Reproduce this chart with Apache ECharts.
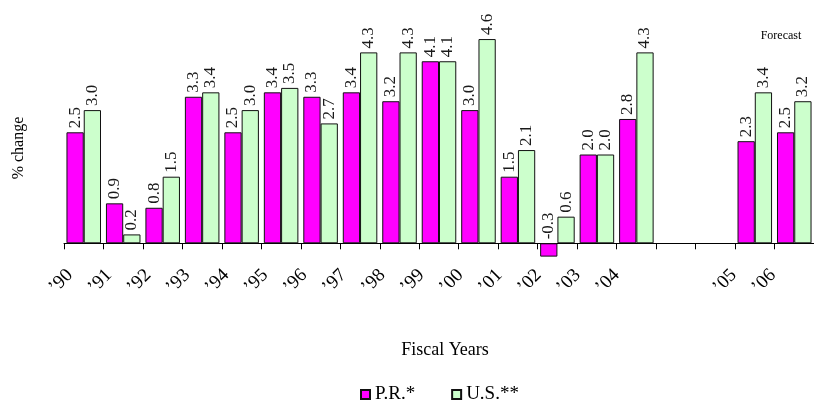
<!DOCTYPE html>
<html>
<head>
<meta charset="utf-8">
<script src="https://cdn.jsdelivr.net/npm/echarts@6/dist/echarts.min.js"></script>
<style>
  html, body { margin: 0; padding: 0; background: #fff; }
  #chart { width: 814px; height: 403px; }
</style>
</head>
<body>
<div id="chart"></div>
<script>
// fiscal years, two blank slots before the forecast years
var yearLabels = ['’90', '’91', '’92', '’93', '’94', '’95', '’96', '’97', '’98', '’99',
                  '’00', '’01', '’02', '’03', '’04', '', '', '’05', '’06'];
var prValues = [2.5, 0.9, 0.8, 3.3, 2.5, 3.4, 3.3, 3.4, 3.2, 4.1,
                3.0, 1.5, -0.3, 2.0, 2.8, null, null, 2.3, 2.5];
var usValues = [3.0, 0.2, 1.5, 3.4, 3.0, 3.5, 2.7, 4.3, 4.3, 4.1,
                4.6, 2.1, 0.6, 2.0, 4.3, null, null, 3.4, 3.2];

var font = 'Liberation Serif, Times New Roman, serif';

var chart = echarts.init(document.getElementById('chart'));

var barLabel = {
    show: true,
    position: 'top',
    rotate: 90,
    align: 'left',
    verticalAlign: 'middle',
    distance: 4,
    fontFamily: font,
    fontSize: 17,
    color: '#1a1a1a',
    formatter: function (p) {
        return p.value == null ? '' : p.value.toFixed(1);
    }
};

chart.setOption({
    animation: false,
    backgroundColor: '#fff',
    grid: [
        {left: 64, width: 760, top: 21.3, height: 266.4},
        // only used to place the slanted year labels at the tick marks
        {left: 70, width: 760, top: 0, height: 243.3}
    ],
    legend: {
        left: 355,
        top: 380,
        icon: 'rect',
        itemWidth: 9,
        itemHeight: 9,
        itemGap: 36,
        textStyle: {fontFamily: font, fontSize: 19, color: '#000'}
    },
    xAxis: [{
        type: 'category',
        gridIndex: 0,
        data: yearLabels,
        axisLine: {onZero: true, lineStyle: {color: '#000', width: 1}},
        axisTick: {show: true, length: 6, lineStyle: {color: '#000'}},
        axisLabel: {show: false},
        splitLine: {show: false}
    }, {
        type: 'value',
        gridIndex: 1,
        min: 0,
        max: 19,
        interval: 1,
        position: 'bottom',
        axisLine: {show: false},
        axisTick: {show: false},
        splitLine: {show: false},
        axisLabel: {
            rotate: 45,
            margin: 29,
            fontFamily: font,
            fontSize: 19,
            color: '#000',
            formatter: function (v) {
                return yearLabels[v] || '';
            }
        }
    }],
    yAxis: [{
        type: 'value',
        gridIndex: 0,
        min: -1,
        max: 5,
        axisLine: {show: false},
        axisTick: {show: false},
        axisLabel: {show: false},
        splitLine: {show: false}
    }, {
        type: 'value',
        gridIndex: 1,
        min: 0,
        max: 1,
        show: false
    }],
    graphic: [{
        type: 'text',
        x: 19,
        y: 148,
        rotation: Math.PI / 2,
        style: {text: '% change', fontFamily: font, fontSize: 16, fill: '#000', align: 'center', verticalAlign: 'middle'}
    }, {
        type: 'text',
        x: 445,
        y: 350,
        style: {text: 'Fiscal Years', fontFamily: font, fontSize: 18, fill: '#000', align: 'center', verticalAlign: 'middle'}
    }, {
        type: 'text',
        x: 781,
        y: 36,
        style: {text: 'Forecast', fontFamily: font, fontSize: 12, fill: '#000', align: 'center', verticalAlign: 'middle'}
    }],
    series: [{
        name: 'P.R.*',
        type: 'bar',
        xAxisIndex: 0,
        yAxisIndex: 0,
        data: prValues,
        barGap: '0%',
        barCategoryGap: '12.5%',
        itemStyle: {color: '#ff00ff', borderColor: '#111', borderWidth: 1},
        label: barLabel
    }, {
        name: 'U.S.**',
        type: 'bar',
        xAxisIndex: 0,
        yAxisIndex: 0,
        data: usValues,
        barGap: '0%',
        barCategoryGap: '12.5%',
        itemStyle: {color: '#ccffcc', borderColor: '#111', borderWidth: 1},
        label: barLabel
    }]
});
</script>
</body>
</html>
